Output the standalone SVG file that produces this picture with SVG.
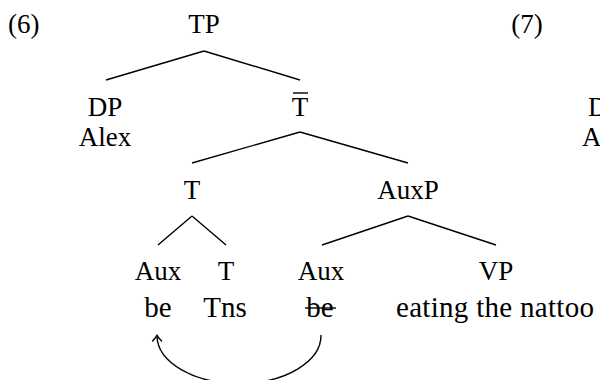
<svg xmlns="http://www.w3.org/2000/svg" width="600" height="380" viewBox="0 0 600 380">
<defs>
<style>
text{font-family:"Liberation Serif","Times New Roman",serif;font-size:27px;fill:#000;text-anchor:middle}
.lc{font-size:29px}
.st{text-anchor:start}
line,path{stroke:#000;stroke-width:1.4;fill:none}
</style>
<marker id="arr" viewBox="-7 -7 10 14" markerWidth="10" markerHeight="14" refX="0" refY="0" orient="auto" markerUnits="userSpaceOnUse">
<path d="M-5,-4.5 Q-1.5,-1 0.6,0 Q-1.5,1 -5,4.5" stroke-linecap="round"/>
</marker>
</defs>
<rect width="600" height="380" fill="#fff"/>
<text class="st" x="8" y="33">(6)</text>
<text x="527" y="33">(7)</text>
<g id="connectors">
<line x1="204" y1="51" x2="106" y2="80"/>
<line x1="204" y1="51" x2="300" y2="80"/>
<line x1="300" y1="132" x2="192" y2="163"/>
<line x1="300" y1="132" x2="408" y2="163"/>
<line x1="192" y1="216" x2="158" y2="245"/>
<line x1="192" y1="216" x2="226" y2="245"/>
<line x1="408" y1="216" x2="322" y2="245"/>
<line x1="408" y1="216" x2="496" y2="245"/>
<path d="M321,335 A82,48 0 0 1 157,336" marker-end="url(#arr)"/>
</g>
<g id="n-TP"><text x="204" y="33">TP</text></g>
<g id="n-DP"><text x="105" y="116">DP</text><text x="105" y="146">Alex</text></g>
<g id="n-Tbar"><text x="300" y="116">T</text><line x1="293" y1="93" x2="308" y2="93"/></g>
<g id="n-T"><text x="192" y="199">T</text></g>
<g id="n-AuxP"><text x="408" y="199">AuxP</text></g>
<g id="n-Aux1"><text x="158" y="280">Aux</text><text class="lc" x="158" y="317">be</text></g>
<g id="n-T2"><text x="226" y="280">T</text><text class="lc" x="225" y="317">Tns</text></g>
<g id="n-Aux2"><text x="321" y="280">Aux</text><text class="lc" x="320" y="317">be</text><line x1="305" y1="308" x2="336" y2="308"/></g>
<g id="n-VP"><text x="496" y="280">VP</text><text class="lc" x="495" y="317" textLength="198" lengthAdjust="spacing">eating the nattoo</text></g>
<g id="n-7DP"><text class="st" x="588" y="116">D</text><text class="st" x="582" y="146">A</text></g>
</svg>
